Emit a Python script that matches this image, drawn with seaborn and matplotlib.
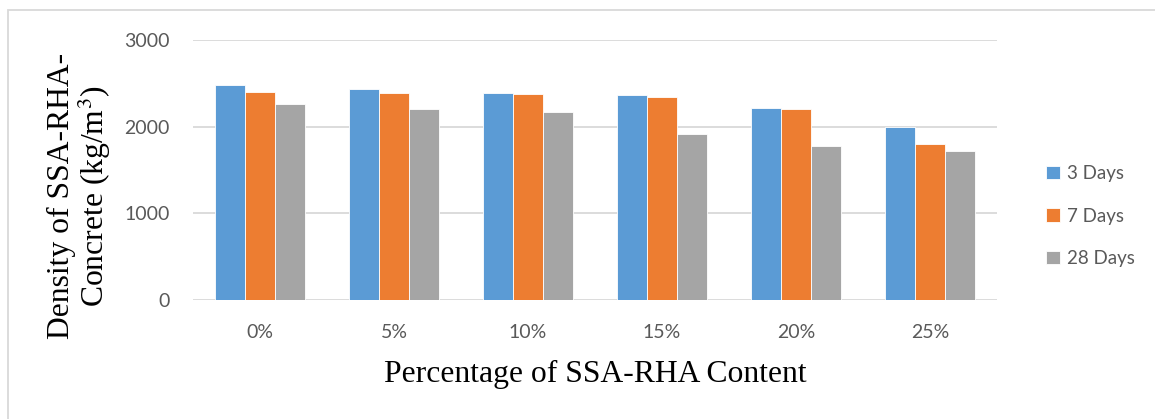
import matplotlib
matplotlib.use("Agg")
import matplotlib.pyplot as plt
import matplotlib.patches as mpatches
import pandas as pd
import seaborn as sns

# Density measurements (kg/m^3) by replacement level and curing age
contents = ["0%", "5%", "10%", "15%", "20%", "25%"]
ages = ["3 Days", "7 Days", "28 Days"]
days_3 = [2480, 2440, 2390, 2360, 2210, 2000]
days_7 = [2400, 2390, 2380, 2340, 2200, 1800]
days_28 = [2260, 2200, 2170, 1920, 1780, 1720]
yticks = [0, 1000, 2000, 3000]

colors = ["#5B9BD5", "#ED7D31", "#A5A5A5"]

rows = []
for age, series in zip(ages, [days_3, days_7, days_28]):
    for c, v in zip(contents, series):
        rows.append({"Content": c, "Age": age, "Density": v})
df = pd.DataFrame(rows)

sns.set_theme(style="white")
plt.rcParams["font.family"] = ["Lato", "DejaVu Sans"]
plt.rcParams["mathtext.fontset"] = "stix"

W, H = 1155, 419
fig = plt.figure(figsize=(W / 100, H / 100), dpi=100)
ax = fig.add_axes([193 / W, 1 - 300 / H, (997 - 193) / W, 260 / H])

sns.barplot(data=df, x="Content", y="Density", hue="Age", order=contents,
            hue_order=ages, palette=colors, width=0.665, saturation=1,
            edgecolor="white", linewidth=0.6, ax=ax, errorbar=None)

ax.set_ylim(0, 3000)
ax.set_xlim(-0.5, len(contents) - 0.5)
ax.set_yticks(yticks)
ax.set_yticklabels([str(t) for t in yticks])
ax.yaxis.grid(True, color="#d9d9d9", linewidth=1.3)
ax.set_axisbelow(True)
for s in ax.spines.values():
    s.set_visible(False)
ax.tick_params(axis="both", length=0, labelsize=14, labelcolor="#595959")
ax.tick_params(axis="y", pad=17)
ax.tick_params(axis="x", pad=17)

serif = ["Liberation Serif", "DejaVu Serif"]
ax.set_xlabel("Percentage of SSA-RHA Content", family=serif, fontsize=22.8,
              color="black", va="center")
ax.xaxis.set_label_coords(0.5, (300 - 374) / 260)
ax.set_ylabel("")
fig.text(80 / W, 1 - 196 / H, "Density of SSA-RHA-\nConcrete (kg/m$^3$)",
         rotation=90, ha="center", va="center", multialignment="center",
         family=serif, fontsize=22.8, color="black", linespacing=1.0)

handles, labels = ax.get_legend_handles_labels()
ax.legend(handles, labels, loc="center left", bbox_to_anchor=(1037 / W, 1 - 216 / H),
          bbox_transform=fig.transFigure, frameon=False, fontsize=13.5,
          labelcolor="#595959", handlelength=0.7, handleheight=0.7,
          handletextpad=0.4, labelspacing=1.35, borderpad=0)

# Outer chart frame
fig.patches.append(mpatches.Rectangle((8 / W, -0.05), 1.1, 1 - 10 / H + 0.05,
                                      transform=fig.transFigure, fill=False,
                                      edgecolor="#d9d9d9", linewidth=1.3))

fig.savefig("out.png", dpi=100)
